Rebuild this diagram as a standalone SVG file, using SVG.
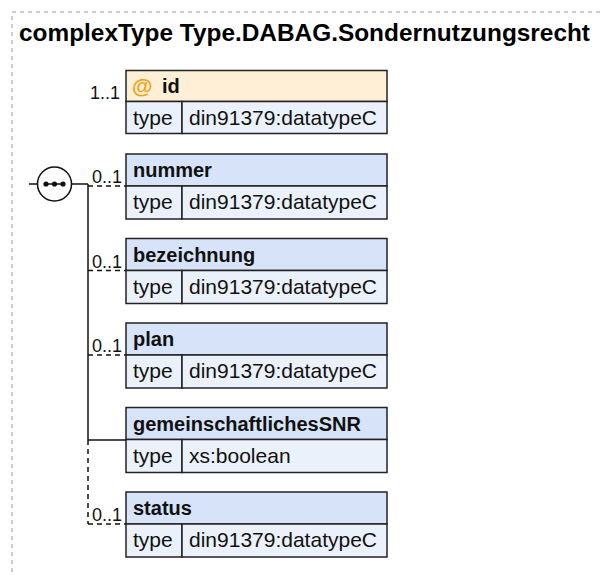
<svg xmlns="http://www.w3.org/2000/svg" width="600" height="575" viewBox="0 0 600 575">
<defs>
<style>
.frame{fill:none;stroke:#999;stroke-width:1;stroke-dasharray:4,4}
.title{font-family:"Liberation Sans",Arial,sans-serif;font-size:24.4px;font-weight:bold;fill:#000}
.hdr{fill:#d6e3f8;stroke:#222;stroke-width:1.5}
.ahdr{fill:#ffefd6;stroke:#222;stroke-width:1.5}
.row{fill:#ebf1fb;stroke:#222;stroke-width:1.5}
.name{font-family:"Liberation Sans",Arial,sans-serif;font-size:20px;font-weight:bold;fill:#111}
.txt{font-family:"Liberation Sans",Arial,sans-serif;font-size:21px;fill:#111}
.card{font-family:"Liberation Sans",Arial,sans-serif;font-size:18px;fill:#111}
.at{font-family:"Liberation Sans",Arial,sans-serif;font-size:21px;font-weight:bold;fill:#f0a010}
.ln{fill:none;stroke:#111;stroke-width:1.5}
.dl{fill:none;stroke:#111;stroke-width:1.5;stroke-dasharray:5,4}
</style>
</defs>
<rect class="frame" x="12" y="12" width="620" height="600"/>
<text class="title" x="19" y="41">complexType Type.DABAG.Sondernutzungsrecht</text>

<g id="connectors">
<line class="ln" x1="29" y1="184" x2="38" y2="184"/>
<line class="ln" x1="71" y1="184" x2="88" y2="184"/>
<line class="ln" x1="88" y1="184" x2="88" y2="440"/>
<line class="dl" x1="88" y1="186" x2="126" y2="186"/>
<line class="dl" x1="88" y1="270.5" x2="126" y2="270.5"/>
<line class="dl" x1="88" y1="355" x2="126" y2="355"/>
<line class="ln" x1="88" y1="440" x2="126" y2="440"/>
<line class="dl" x1="88" y1="440" x2="88" y2="524"/>
<line class="dl" x1="88" y1="524" x2="126" y2="524"/>
</g>

<g id="sequence">
<circle cx="54.5" cy="184" r="17" fill="#fff" stroke="#111" stroke-width="1.5"/>
<line class="ln" x1="44" y1="184" x2="65" y2="184"/>
<circle cx="46" cy="184" r="2.6" fill="#111"/>
<circle cx="54.5" cy="184" r="2.6" fill="#111"/>
<circle cx="63" cy="184" r="2.6" fill="#111"/>
</g>

<g id="id">
<text class="card" x="90" y="99">1..1</text>
<rect class="ahdr" x="126" y="70.5" width="261" height="31"/>
<rect class="row" x="126" y="101.5" width="56" height="32"/>
<rect class="row" x="182" y="101.5" width="205" height="32"/>
<text class="at" x="132" y="93">@</text>
<text class="name" x="162" y="93">id</text>
<text class="txt" x="133" y="125">type</text>
<text class="txt" x="189" y="125">din91379:datatypeC</text>
</g>

<g id="nummer">
<text class="card" x="92" y="183">0..1</text>
<rect class="hdr" x="126" y="154" width="261" height="32"/>
<rect class="row" x="126" y="186" width="56" height="33"/>
<rect class="row" x="182" y="186" width="205" height="33"/>
<text class="name" x="133" y="177">nummer</text>
<text class="txt" x="133" y="209">type</text>
<text class="txt" x="189" y="209">din91379:datatypeC</text>
</g>

<g id="bezeichnung">
<text class="card" x="92" y="267.5">0..1</text>
<rect class="hdr" x="126" y="238.5" width="261" height="32"/>
<rect class="row" x="126" y="270.5" width="56" height="33"/>
<rect class="row" x="182" y="270.5" width="205" height="33"/>
<text class="name" x="133" y="261.5">bezeichnung</text>
<text class="txt" x="133" y="293.5">type</text>
<text class="txt" x="189" y="293.5">din91379:datatypeC</text>
</g>

<g id="plan">
<text class="card" x="92" y="352">0..1</text>
<rect class="hdr" x="126" y="323" width="261" height="32"/>
<rect class="row" x="126" y="355" width="56" height="33"/>
<rect class="row" x="182" y="355" width="205" height="33"/>
<text class="name" x="133" y="346">plan</text>
<text class="txt" x="133" y="378">type</text>
<text class="txt" x="189" y="378">din91379:datatypeC</text>
</g>

<g id="gemeinschaftlichesSNR">
<rect class="hdr" x="126" y="407.5" width="261" height="32"/>
<rect class="row" x="126" y="439.5" width="56" height="33"/>
<rect class="row" x="182" y="439.5" width="205" height="33"/>
<text class="name" x="133" y="430.5">gemeinschaftlichesSNR</text>
<text class="txt" x="133" y="462.5">type</text>
<text class="txt" x="189" y="462.5">xs:boolean</text>
</g>

<g id="status">
<text class="card" x="92" y="521">0..1</text>
<rect class="hdr" x="126" y="492" width="261" height="32"/>
<rect class="row" x="126" y="524" width="56" height="33"/>
<rect class="row" x="182" y="524" width="205" height="33"/>
<text class="name" x="133" y="515">status</text>
<text class="txt" x="133" y="547">type</text>
<text class="txt" x="189" y="547">din91379:datatypeC</text>
</g>
</svg>
